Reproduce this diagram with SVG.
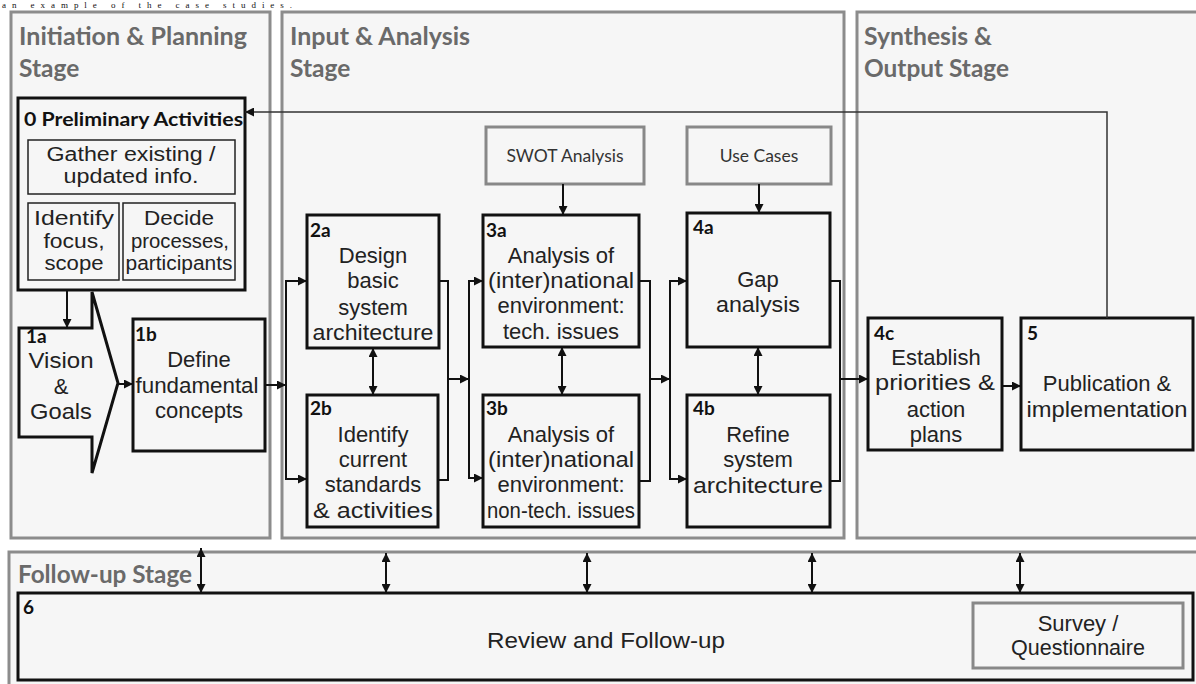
<svg xmlns="http://www.w3.org/2000/svg" width="1196" height="684" viewBox="0 0 1196 684">
<defs>
<marker id="ah" viewBox="0 0 10 10" refX="10" refY="5" markerWidth="9" markerHeight="9" markerUnits="userSpaceOnUse" orient="auto-start-reverse">
<path d="M0,0 L10,5 L0,10 z" fill="#111"/>
</marker>
<style>
.stage{fill:#f6f6f6;stroke:#8c8c8c;stroke-width:3}
.st{font-family:Lato,"Liberation Sans",sans-serif;font-weight:bold;font-size:24.5px;fill:#6a6a6a}
.box{fill:none;stroke:#111;stroke-width:3}
.thin{fill:none;stroke:#222;stroke-width:1.5}
.gbox{fill:none;stroke:#888;stroke-width:3}
.lbl{font-family:Lato,"Liberation Sans",sans-serif;font-weight:bold;font-size:19px;fill:#111}
.t{font-family:"Liberation Sans",Arial,sans-serif;font-size:22px;fill:#222;text-anchor:middle}
.ts{font-family:"Liberation Sans",Arial,sans-serif;font-size:19.5px;fill:#222;text-anchor:middle}
.tx{font-family:Lato,"Liberation Sans",sans-serif;font-size:17.5px;fill:#333;text-anchor:middle}
.c{fill:none;stroke:#111;stroke-width:2}
.a{fill:none;stroke:#111;stroke-width:2;marker-end:url(#ah)}
.d{fill:none;stroke:#111;stroke-width:2;marker-start:url(#ah);marker-end:url(#ah)}
</style>
</defs>
<rect width="1196" height="684" fill="#fff"/>
<text x="2" y="8" font-family="'Liberation Serif',serif" font-size="9" fill="#111" textLength="290" lengthAdjust="spacing">an example of the case studies.</text>

<g id="stage-initiation">
<rect class="stage" x="11" y="12" width="259" height="526"/>
<text class="st" x="19" y="45" textLength="228" lengthAdjust="spacingAndGlyphs">Initiation &amp; Planning</text>
<text class="st" x="19" y="77">Stage</text>
</g>
<g id="stage-input">
<rect class="stage" x="282" y="12" width="562" height="526"/>
<text class="st" x="290" y="45" textLength="180" lengthAdjust="spacingAndGlyphs">Input &amp; Analysis</text>
<text class="st" x="290" y="77">Stage</text>
</g>
<g id="stage-synthesis">
<rect class="stage" x="857" y="12" width="345" height="526"/>
<text class="st" x="864" y="45" textLength="128" lengthAdjust="spacingAndGlyphs">Synthesis &amp;</text>
<text class="st" x="864" y="77" textLength="145" lengthAdjust="spacingAndGlyphs">Output Stage</text>
</g>
<g id="stage-followup">
<rect class="stage" x="9" y="552" width="1195" height="140"/>
<text class="st" x="18" y="583" font-size="22.5" textLength="174" lengthAdjust="spacingAndGlyphs">Follow-up Stage</text>
</g>

<g id="node-0">
<rect class="box" x="18" y="98" width="227" height="192"/>
<text class="lbl" x="24" y="126" font-size="21" textLength="219" lengthAdjust="spacingAndGlyphs">0 Preliminary Activities</text>
<rect class="thin" x="28" y="140" width="207" height="54"/>
<text class="ts" x="131" y="161" textLength="169" lengthAdjust="spacingAndGlyphs">Gather existing /</text>
<text class="ts" x="131" y="183" textLength="135" lengthAdjust="spacingAndGlyphs">updated info.</text>
<rect class="thin" x="28" y="203" width="91" height="77"/>
<text class="ts" x="74" y="225" textLength="80" lengthAdjust="spacingAndGlyphs">Identify</text>
<text class="ts" x="74" y="248" textLength="61" lengthAdjust="spacingAndGlyphs">focus,</text>
<text class="ts" x="74" y="270" textLength="59" lengthAdjust="spacingAndGlyphs">scope</text>
<rect class="thin" x="123" y="203" width="112" height="77"/>
<text class="ts" x="179" y="225" textLength="70" lengthAdjust="spacingAndGlyphs">Decide</text>
<text class="ts" x="180" y="248" textLength="98" lengthAdjust="spacingAndGlyphs">processes,</text>
<text class="ts" x="179" y="270" textLength="107" lengthAdjust="spacingAndGlyphs">participants</text>
</g>

<g id="node-1a">
<path class="box" d="M19,328 H92 V292 L118,383 L92,473 V437 H19 Z"/>
<text class="lbl" x="26" y="343">1a</text>
<text class="t" x="61" y="368" textLength="65" lengthAdjust="spacingAndGlyphs">Vision</text>
<text class="t" x="61" y="394">&amp;</text>
<text class="t" x="61" y="419" textLength="62" lengthAdjust="spacingAndGlyphs">Goals</text>
</g>

<g id="node-1b">
<rect class="box" x="133" y="319" width="132" height="132"/>
<text class="lbl" x="135" y="341">1b</text>
<text class="t" x="199" y="367">Define</text>
<text class="t" x="197" y="393" textLength="123" lengthAdjust="spacingAndGlyphs">fundamental</text>
<text class="t" x="199" y="418">concepts</text>
</g>

<g id="node-2a">
<rect class="box" x="307" y="215" width="132" height="133"/>
<text class="lbl" x="310" y="237">2a</text>
<text class="t" x="373" y="263">Design</text>
<text class="t" x="373" y="288">basic</text>
<text class="t" x="373" y="315">system</text>
<text class="t" x="373" y="340" textLength="121" lengthAdjust="spacingAndGlyphs">architecture</text>
</g>
<g id="node-2b">
<rect class="box" x="307" y="395" width="131" height="132"/>
<text class="lbl" x="310" y="415">2b</text>
<text class="t" x="373" y="442">Identify</text>
<text class="t" x="373" y="467">current</text>
<text class="t" x="373" y="492">standards</text>
<text class="t" x="373" y="518" textLength="120" lengthAdjust="spacingAndGlyphs">&amp; activities</text>
</g>

<g id="node-swot">
<rect class="gbox" x="486" y="127" width="158" height="57"/>
<text class="tx" x="565" y="162">SWOT Analysis</text>
</g>
<g id="node-3a">
<rect class="box" x="483" y="215" width="156" height="132"/>
<text class="lbl" x="486" y="237">3a</text>
<text class="t" x="561" y="263">Analysis of</text>
<text class="t" x="561" y="288" textLength="146" lengthAdjust="spacingAndGlyphs">(inter)national</text>
<text class="t" x="561" y="313">environment:</text>
<text class="t" x="561" y="339">tech. issues</text>
</g>
<g id="node-3b">
<rect class="box" x="483" y="395" width="156" height="132"/>
<text class="lbl" x="486" y="415">3b</text>
<text class="t" x="561" y="442">Analysis of</text>
<text class="t" x="561" y="467" textLength="146" lengthAdjust="spacingAndGlyphs">(inter)national</text>
<text class="t" x="561" y="492">environment:</text>
<text class="t" x="561" y="518" textLength="148" lengthAdjust="spacingAndGlyphs">non-tech. issues</text>
</g>

<g id="node-usecases">
<rect class="gbox" x="687" y="127" width="144" height="57"/>
<text class="tx" x="759" y="162">Use Cases</text>
</g>
<g id="node-4a">
<rect class="box" x="687" y="213" width="143" height="134"/>
<text class="lbl" x="693" y="234">4a</text>
<text class="t" x="758" y="287">Gap</text>
<text class="t" x="758" y="312" textLength="84" lengthAdjust="spacingAndGlyphs">analysis</text>
</g>
<g id="node-4b">
<rect class="box" x="687" y="395" width="143" height="132"/>
<text class="lbl" x="693" y="415">4b</text>
<text class="t" x="758" y="442">Refine</text>
<text class="t" x="758" y="467">system</text>
<text class="t" x="758" y="493" textLength="130" lengthAdjust="spacingAndGlyphs">architecture</text>
</g>

<g id="node-4c">
<rect class="box" x="868" y="318" width="134" height="132"/>
<text class="lbl" x="874" y="340">4c</text>
<text class="t" x="936" y="365">Establish</text>
<text class="t" x="935" y="390" textLength="120" lengthAdjust="spacingAndGlyphs">priorities &amp;</text>
<text class="t" x="936" y="417">action</text>
<text class="t" x="936" y="442">plans</text>
</g>
<g id="node-5">
<rect class="box" x="1021" y="318" width="172" height="132"/>
<text class="lbl" x="1027" y="340">5</text>
<text class="t" x="1107" y="391">Publication &amp;</text>
<text class="t" x="1107" y="417" textLength="161" lengthAdjust="spacingAndGlyphs">implementation</text>
</g>

<g id="node-6">
<rect class="box" x="18" y="593" width="1175" height="87"/>
<text class="lbl" x="23" y="614">6</text>
<text class="t" x="606" y="648" font-size="23" textLength="238" lengthAdjust="spacingAndGlyphs">Review and Follow-up</text>
<rect class="gbox" x="973" y="603" width="210" height="65"/>
<text class="t" x="1078" y="631" font-size="20">Survey /</text>
<text class="t" x="1078" y="655" font-size="20" textLength="134" lengthAdjust="spacingAndGlyphs">Questionnaire</text>
</g>

<g id="connectors">
<path class="a" d="M67,290 V328"/>
<path class="a" d="M118,384 H133"/>
<path class="a" d="M265,385 H286"/>
<path class="d" d="M307,281 H286 V479 H307"/>
<path class="c" d="M439,281 H448 V480 H438"/>
<path class="a" d="M448,379 H469"/>
<path class="d" d="M483,281 H469 V478 H483"/>
<path class="c" d="M639,281 H650 V481 H639"/>
<path class="a" d="M650,379 H670"/>
<path class="d" d="M687,281 H670 V479 H687"/>
<path class="c" d="M830,281 H840 V481 H830"/>
<path class="a" d="M840,379 H868"/>
<path class="a" d="M1002,386 H1021"/>
<path class="a" d="M563,184 V215"/>
<path class="a" d="M759,184 V213"/>
<path class="d" d="M373,348 V395"/>
<path class="d" d="M562,347 V395"/>
<path class="d" d="M758,347 V395"/>
<path fill="none" stroke="#333" stroke-width="1.5" marker-end="url(#ah)" d="M1107,318 V112 H245"/>
<path class="d" d="M201,548 V593"/>
<path class="d" d="M386,553 V593"/>
<path class="d" d="M587,553 V593"/>
<path class="d" d="M812,553 V593"/>
<path class="d" d="M1020,553 V593"/>
</g>
</svg>
